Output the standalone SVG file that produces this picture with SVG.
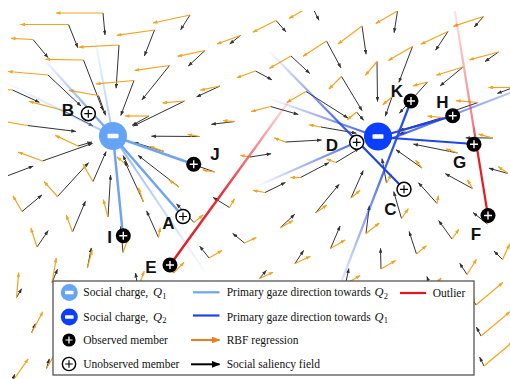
<svg xmlns="http://www.w3.org/2000/svg" width="510" height="379" viewBox="0 0 510 379">
<defs>
<style>
.k{fill:none;stroke:#333;stroke-width:1;marker-end:url(#mk)}
.o{fill:none;stroke:#f3a31f;stroke-width:1.2;marker-end:url(#mo)}
.lb{font-family:"Liberation Sans",Arial,sans-serif;font-weight:bold;font-size:17px;fill:#111;text-anchor:middle}
.lt{font-family:"Liberation Serif","Times New Roman",serif;font-size:11.5px;fill:#111}
.q{font-style:italic;font-size:12.5px}
.s{font-size:8.5px}
.g{fill:none;stroke-linecap:round}
.lb1{stroke:#6ea3f5;stroke-width:2.5}
.db{stroke:#1e44ea;stroke-width:2.2}
</style>
<marker id="mk" viewBox="0 0 8 6" refX="7.5" refY="3" markerWidth="5" markerHeight="3.6" orient="auto" markerUnits="userSpaceOnUse"><path d="M0,0L8,3L0,6z" fill="#333"/></marker>
<marker id="mo" viewBox="0 0 8 6" refX="7.5" refY="3" markerWidth="5" markerHeight="3.6" orient="auto" markerUnits="userSpaceOnUse"><path d="M0,0L8,3L0,6z" fill="#f3a31f"/></marker>
<marker id="mkL" viewBox="0 0 10 8" refX="9" refY="4" markerWidth="9" markerHeight="7" orient="auto" markerUnits="userSpaceOnUse"><path d="M0,0L10,4L0,8z" fill="#000"/></marker>
<marker id="moL" viewBox="0 0 10 8" refX="9" refY="4" markerWidth="9" markerHeight="7" orient="auto" markerUnits="userSpaceOnUse"><path d="M0,0L10,4L0,8z" fill="#ef7a22"/></marker>
<g id="obs"><circle r="7.5" fill="#000"/><path d="M-4,0H4M0,-4V4" stroke="#fff" stroke-width="1.4"/></g>
<g id="uno"><circle r="7" fill="#fff" stroke="#000" stroke-width="1.5"/><path d="M-4,0H4M0,-4V4" stroke="#000" stroke-width="1.2"/></g>
<clipPath id="cf"><rect x="8" y="11" width="502" height="368"/></clipPath>
<linearGradient id="gL1" gradientUnits="userSpaceOnUse" x1="113" y1="136" x2="40" y2="55"><stop offset="0" stop-color="#6ea3f5"/><stop offset="0.35" stop-color="#6ea3f5" stop-opacity="0.8"/><stop offset="1" stop-color="#6ea3f5" stop-opacity="0"/></linearGradient>
<linearGradient id="gL2" gradientUnits="userSpaceOnUse" x1="113" y1="136" x2="0" y2="80"><stop offset="0" stop-color="#6ea3f5" stop-opacity="0.6"/><stop offset="1" stop-color="#6ea3f5" stop-opacity="0"/></linearGradient>
<linearGradient id="gL3" gradientUnits="userSpaceOnUse" x1="113" y1="136" x2="93" y2="28"><stop offset="0" stop-color="#6ea3f5" stop-opacity="0.6"/><stop offset="1" stop-color="#6ea3f5" stop-opacity="0"/></linearGradient>
<linearGradient id="gL7" gradientUnits="userSpaceOnUse" x1="113" y1="136" x2="205" y2="272"><stop offset="0" stop-color="#6ea3f5" stop-opacity="0.8"/><stop offset="1" stop-color="#6ea3f5" stop-opacity="0.05"/></linearGradient>
<linearGradient id="gD1" gradientUnits="userSpaceOnUse" x1="268" y1="50" x2="404" y2="189"><stop offset="0" stop-color="#1e44ea" stop-opacity="0"/><stop offset="0.65" stop-color="#1e44ea"/><stop offset="1" stop-color="#1e44ea"/></linearGradient>
<linearGradient id="gD2" gradientUnits="userSpaceOnUse" x1="411" y1="101" x2="342" y2="280"><stop offset="0" stop-color="#1e44ea"/><stop offset="0.3" stop-color="#1e44ea" stop-opacity="0.9"/><stop offset="1" stop-color="#1e44ea" stop-opacity="0.12"/></linearGradient>
<linearGradient id="gD4" gradientUnits="userSpaceOnUse" x1="385" y1="137" x2="510" y2="93"><stop offset="0" stop-color="#1e44ea" stop-opacity="0.9"/><stop offset="1" stop-color="#1e44ea" stop-opacity="0.3"/></linearGradient>
<linearGradient id="gD5" gradientUnits="userSpaceOnUse" x1="268" y1="98" x2="378" y2="137"><stop offset="0" stop-color="#1e44ea" stop-opacity="0"/><stop offset="1" stop-color="#1e44ea" stop-opacity="0.9"/></linearGradient>
<linearGradient id="gD6" gradientUnits="userSpaceOnUse" x1="357" y1="142" x2="255" y2="187"><stop offset="0" stop-color="#1e44ea" stop-opacity="0.8"/><stop offset="1" stop-color="#1e44ea" stop-opacity="0"/></linearGradient>
<linearGradient id="gR1" gradientUnits="userSpaceOnUse" x1="170" y1="265" x2="297" y2="90"><stop offset="0" stop-color="#e8141e"/><stop offset="0.4" stop-color="#e8141e" stop-opacity="0.9"/><stop offset="1" stop-color="#e8141e" stop-opacity="0"/></linearGradient>
<linearGradient id="gR2" gradientUnits="userSpaceOnUse" x1="488" y1="216" x2="455" y2="12"><stop offset="0" stop-color="#e8141e"/><stop offset="0.35" stop-color="#e8141e" stop-opacity="0.95"/><stop offset="0.45" stop-color="#e8141e" stop-opacity="0.55"/><stop offset="1" stop-color="#e8141e" stop-opacity="0.12"/></linearGradient>
</defs>
<rect width="510" height="379" fill="#fff"/>
<g id="field" clip-path="url(#cf)">
<path class="k" d="M68.5 24.5L77.8 47.7"/><path class="o" d="M68.5 24.5L20.5 24.5"/>
<path class="k" d="M103 13L105 35"/><path class="o" d="M103 13L56 13"/>
<path class="k" d="M33 39.5L48 57.6"/><path class="o" d="M33 39.5L11 38.3"/>
<path class="k" d="M12.5 90L39.3 102.3"/><path class="o" d="M12.5 90L-17 87.4"/>
<path class="k" d="M48 75L81 106"/><path class="o" d="M48 75L8.2 71.5"/>
<path class="k" d="M83.5 60L103 110.5"/><path class="o" d="M83.5 60L45.5 59.3"/>
<path class="k" d="M119 45L116.1 88.2"/><path class="o" d="M119 45L79 47.1"/>
<path class="k" d="M154.5 30L144.4 55.9"/><path class="o" d="M154.5 30L116.9 35.3"/>
<path class="k" d="M190 15L180.6 29.8"/><path class="o" d="M190 15L153 23"/>
<path class="k" d="M27.5 125.5L75.8 131.4"/><path class="o" d="M27.5 125.5L-9.9 118.9"/>
<path class="k" d="M63 110.5L93 126"/><path class="o" d="M63 110.5L29.2 101.4"/>
<path class="k" d="M98.5 95.5L105.6 115.3"/><path class="o" d="M98.5 95.5L69 90.3"/>
<path class="k" d="M134 80.5L120.8 115.4"/><path class="o" d="M134 80.5L96.1 83.8"/>
<path class="k" d="M169.5 65.5L141.9 99.9"/><path class="o" d="M169.5 65.5L134.8 70.4"/>
<path class="k" d="M205 50.5L188.3 66"/><path class="o" d="M205 50.5L177.6 56.3"/>
<path class="k" d="M240.5 35.5L229.7 44"/><path class="o" d="M240.5 35.5L217 44"/>
<path class="k" d="M276 20.5L285.9 31.8"/><path class="o" d="M276 20.5L252.8 32.3"/>
<path class="k" d="M311.5 5.5L319 20.3"/><path class="o" d="M311.5 5.5L289 18.5"/>
<path class="k" d="M7 176L33.2 166.1"/><path class="o" d="M7 176L-9 164.5"/>
<path class="k" d="M42.5 161L92.5 143.3"/><path class="o" d="M42.5 161L18.1 152.1"/>
<path class="k" d="M78 146L91.9 142"/><path class="o" d="M78 146L55.3 135.4"/>
<path class="k" d="M149 116L132.2 125.3"/><path class="o" d="M149 116L125 116"/>
<path class="k" d="M184.5 101L133.3 126.1"/><path class="o" d="M184.5 101L162.6 102.9"/>
<path class="k" d="M220 86L196.6 96.9"/><path class="o" d="M220 86L200.4 90.2"/>
<path class="k" d="M255.5 71L271.9 79.8"/><path class="o" d="M255.5 71L236.7 77.8"/>
<path class="k" d="M291 56L309.7 73.4"/><path class="o" d="M291 56L269.3 68.5"/>
<path class="k" d="M326.5 41L340.9 67.8"/><path class="o" d="M326.5 41L303 56.3"/>
<path class="k" d="M362 26L366.1 54.3"/><path class="o" d="M362 26L338 44"/>
<path class="k" d="M397.5 11L394.1 32.7"/><path class="o" d="M397.5 11L375.8 23.5"/>
<path class="k" d="M22 211.5L41.9 195"/><path class="o" d="M22 211.5L13 195.9"/>
<path class="k" d="M57.5 196.5L88.6 162.6"/><path class="o" d="M57.5 196.5L44.1 181.6"/>
<path class="k" d="M93 181.5L106.1 151.6"/><path class="o" d="M93 181.5L83 164.2"/>
<path class="k" d="M128.5 166.5L123 155.6"/><path class="o" d="M128.5 166.5L117 156.9"/>
<path class="k" d="M164 151.5L134 142.4"/><path class="o" d="M164 151.5L149.9 146.4"/>
<path class="k" d="M199.5 136.5L151.4 136.2"/><path class="o" d="M199.5 136.5L187.7 134.4"/>
<path class="k" d="M235 121.5L211.4 124.3"/><path class="o" d="M235 121.5L223 120.5"/>
<path class="k" d="M270.5 106.5L298.2 114.4"/><path class="o" d="M270.5 106.5L251.2 111.7"/>
<path class="k" d="M306 91.5L347.9 118"/><path class="o" d="M306 91.5L286.9 102.5"/>
<path class="k" d="M341.5 76.5L362.1 110.7"/><path class="o" d="M341.5 76.5L328.8 89.2"/>
<path class="k" d="M377 61.5L377.5 101.5"/><path class="o" d="M377 61.5L365.4 75.3"/>
<path class="k" d="M412.5 46.5L398.9 82.3"/><path class="o" d="M412.5 46.5L388.3 60.5"/>
<path class="k" d="M448 31.5L435.6 50.2"/><path class="o" d="M448 31.5L420.8 44.2"/>
<path class="k" d="M483.5 16.5L474.3 27"/><path class="o" d="M483.5 16.5L453.1 26.4"/>
<path class="k" d="M37 247L48.2 230.6"/><path class="o" d="M37 247L30.8 228"/>
<path class="k" d="M72.5 232L85.4 201.4"/><path class="o" d="M72.5 232L66.3 215.1"/>
<path class="k" d="M108 217L110.6 175.1"/><path class="o" d="M108 217L103.3 199.6"/>
<path class="k" d="M143.5 202L124.6 161.1"/><path class="o" d="M143.5 202L138.4 187.9"/>
<path class="k" d="M179 187L138 155.3"/><path class="o" d="M179 187L169.2 180.1"/>
<path class="k" d="M214.5 172L185.3 161.6"/><path class="o" d="M214.5 172L202.7 169.9"/>
<path class="k" d="M250 157L271.1 153.7"/><path class="o" d="M250 157L240.2 155.3"/>
<path class="k" d="M285.5 142L321.5 140"/><path class="o" d="M285.5 142L274.2 137.9"/>
<path class="k" d="M321 127L356.4 133.2"/><path class="o" d="M321 127L309.2 124.9"/>
<path class="k" d="M356.5 112L363.7 120.3"/><path class="o" d="M356.5 112L347.3 119.7"/>
<path class="k" d="M392 97L385.3 116.2"/><path class="o" d="M392 97L382.8 104.7"/>
<path class="k" d="M427.5 82L399.4 113.2"/><path class="o" d="M427.5 82L413 85.9"/>
<path class="k" d="M463 67L440.1 85.9"/><path class="o" d="M463 67L436.2 75.2"/>
<path class="k" d="M498.5 52L485 61.5"/><path class="o" d="M498.5 52L469.5 59.8"/>
<path class="k" d="M16.5 297.5L21.7 288.7"/><path class="o" d="M16.5 297.5L18.7 272.6"/>
<path class="k" d="M52 282.5L57.5 269.3"/><path class="o" d="M52 282.5L56.3 257.9"/>
<path class="k" d="M87.5 267.5L91.3 247.9"/><path class="o" d="M87.5 267.5L92.2 250.1"/>
<path class="k" d="M123 252.5L120.7 226.3"/><path class="o" d="M123 252.5L128.1 238.4"/>
<path class="k" d="M158.5 237.5L146.6 210.9"/><path class="o" d="M158.5 237.5L160.2 227.7"/>
<path class="k" d="M194 222.5L176.5 203.8"/><path class="o" d="M194 222.5L203.2 214.8"/>
<path class="k" d="M229.5 207.5L213.1 197.4"/><path class="o" d="M229.5 207.5L234.5 198.8"/>
<path class="k" d="M265 192.5L285.4 182.5"/><path class="o" d="M265 192.5L253.2 190.4"/>
<path class="k" d="M300.5 177.5L328.8 162.7"/><path class="o" d="M300.5 177.5L290.5 177.5"/>
<path class="k" d="M336 162.5L359.1 148.5"/><path class="o" d="M336 162.5L326.6 159.1"/>
<path class="k" d="M407 132.5L399.1 133.7"/><path class="o" d="M407 132.5L397.6 129.1"/>
<path class="k" d="M442.5 117.5L399.4 130.5"/><path class="o" d="M442.5 117.5L427.6 116.2"/>
<path class="k" d="M478 102.5L447.6 113"/><path class="o" d="M478 102.5L456.1 100.6"/>
<path class="k" d="M513.5 87.5L497.3 93.4"/><path class="o" d="M513.5 87.5L488.5 87.5"/>
<path class="k" d="M31.5 333L35.3 323.8"/><path class="o" d="M31.5 333L42.8 311.8"/>
<path class="k" d="M138 288L135.5 273"/><path class="o" d="M138 288L144.2 271.1"/>
<path class="k" d="M173.5 273L167 258.4"/><path class="o" d="M173.5 273L184.1 262.4"/>
<path class="k" d="M209 258L199.7 246.2"/><path class="o" d="M209 258L222 250.5"/>
<path class="k" d="M244.5 243L232.7 233.4"/><path class="o" d="M244.5 243L256.3 237.5"/>
<path class="k" d="M280 228L294.7 214.3"/><path class="o" d="M280 228L293 220.5"/>
<path class="k" d="M315.5 213L339.1 184.3"/><path class="o" d="M315.5 213L327 205"/>
<path class="k" d="M351 198L363.2 170.6"/><path class="o" d="M351 198L360.2 190.3"/>
<path class="k" d="M386.5 183L382 158.6"/><path class="o" d="M386.5 183L391.5 174.3"/>
<path class="k" d="M422 168L396 149.7"/><path class="o" d="M422 168L415.6 160.3"/>
<path class="k" d="M457.5 153L413.4 144.1"/><path class="o" d="M457.5 153L446.2 148.9"/>
<path class="k" d="M493 138L465.8 137.8"/><path class="o" d="M493 138L478.5 134.1"/>
<path class="k" d="M11 383.5L14.8 374.3"/><path class="o" d="M11 383.5L28.2 358.9"/>
<path class="k" d="M46.5 368.5L49.3 358.9"/><path class="o" d="M46.5 368.5L60.5 344.2"/>
<path class="k" d="M259.5 278.5L266.3 270.4"/><path class="o" d="M259.5 278.5L273.1 272.2"/>
<path class="k" d="M295 263.5L303.6 250.4"/><path class="o" d="M295 263.5L310.4 256.3"/>
<path class="k" d="M330.5 248.5L340.1 226"/><path class="o" d="M330.5 248.5L345.2 240"/>
<path class="k" d="M366 233.5L369.4 205.7"/><path class="o" d="M366 233.5L379.4 223"/>
<path class="k" d="M401.5 218.5L393.7 191.6"/><path class="o" d="M401.5 218.5L408.4 208.7"/>
<path class="k" d="M437 203.5L418.4 182.6"/><path class="o" d="M437 203.5L438.4 195.6"/>
<path class="k" d="M472.5 188.5L445.3 173.7"/><path class="o" d="M472.5 188.5L467.5 179.8"/>
<path class="k" d="M508 173.5L488.9 168.2"/><path class="o" d="M508 173.5L498.2 166.6"/>
<path class="k" d="M381 269L380.5 248.3"/><path class="o" d="M381 269L395.7 260.5"/>
<path class="k" d="M345.5 284L348.9 268.5"/><path class="o" d="M345.5 284L360.2 275.5"/>
<path class="k" d="M416.5 254L409.1 231.5"/><path class="o" d="M416.5 254L426.5 245.6"/>
<path class="k" d="M452 239L438.7 220.6"/><path class="o" d="M452 239L458.9 229.2"/>
<path class="k" d="M487.5 224L473.1 212.6"/><path class="o" d="M487.5 224L492.5 215.3"/>
<path class="k" d="M431.5 289.5L426.9 276.5"/><path class="o" d="M431.5 289.5L441.1 278"/>
<path class="k" d="M467 274.5L459.7 263.3"/><path class="o" d="M467 274.5L476.5 259.2"/>
<path class="k" d="M502.5 259.5L494.1 251.2"/><path class="o" d="M502.5 259.5L509.7 244.1"/>
<path class="k" d="M476 305L471 296.4"/><path class="o" d="M476 305L502.8 282.5"/>
<path class="k" d="M481 336L476.4 327.1"/><path class="o" d="M481 336L510 311.6"/>
<path class="k" d="M484 366L479.6 357.1"/><path class="o" d="M484 366L513 341.6"/>
</g>
<g id="connectors" class="g">
<path stroke="url(#gL2)" stroke-width="2" d="M113 136L0 80"/>
<path stroke="url(#gL3)" stroke-width="2" d="M113 136L93 28"/>
<path stroke="url(#gL1)" stroke-width="2.4" d="M113 136L40 55"/>
<path stroke="url(#gL7)" stroke-width="2.2" d="M113 136L205 272"/>
<path class="lb1" d="M113 136L193.5 164.3"/>
<path class="lb1" d="M113 136L123 236"/>
<path class="lb1" d="M113 136L183 216.5"/>
<path stroke="url(#gD5)" stroke-width="2" d="M268 98L378 137"/>
<path stroke="url(#gD6)" stroke-width="2" d="M357 142L255 187"/>
<path stroke="url(#gD1)" stroke-width="2.2" d="M268 50L404 189"/>
<path stroke="url(#gD2)" stroke-width="2.2" d="M411 101L342 280"/>
<path class="db" d="M378 137L474 144"/>
<path class="db" d="M378 137L453 116"/>
<path stroke="url(#gD4)" stroke-width="2" d="M385 141L510 93"/>
<path stroke="url(#gR1)" stroke-width="2.4" d="M170 265L297 90"/>
<path stroke="url(#gR2)" stroke-width="2.2" d="M488 216L455 12"/>
</g>
<g id="Q1"><circle cx="113" cy="136" r="14" fill="#65a3f7"/><rect x="107.5" y="133.8" width="11" height="4.5" rx="0.8" fill="#fff"/></g>
<g id="Q2"><circle cx="378" cy="136.5" r="14" fill="#0a3fff"/><rect x="372.5" y="134.3" width="11" height="4.5" rx="0.8" fill="#fff"/></g>
<g id="A"><use href="#uno" x="183" y="216.5"/><text class="lb" x="168.5" y="228.5">A</text></g>
<g id="B"><use href="#uno" x="88.3" y="113.7"/><text class="lb" x="68" y="116">B</text></g>
<g id="C"><use href="#uno" x="404" y="189.3"/><text class="lb" x="390.5" y="215">C</text></g>
<g id="D"><use href="#uno" x="356.7" y="142.3"/><text class="lb" x="332" y="150.5">D</text></g>
<g id="E"><use href="#obs" x="170" y="265"/><text class="lb" x="151" y="273.3">E</text></g>
<g id="F"><use href="#obs" x="488" y="215.5"/><text class="lb" x="476" y="240">F</text></g>
<g id="G"><use href="#obs" x="474" y="144.3"/><text class="lb" x="459.7" y="167.5">G</text></g>
<g id="H"><use href="#obs" x="452.7" y="115.7"/><text class="lb" x="442.5" y="108.3">H</text></g>
<g id="I"><use href="#obs" x="123.3" y="235.7"/><text class="lb" x="109.5" y="243.3">I</text></g>
<g id="J"><use href="#obs" x="193.7" y="164.3"/><text class="lb" x="215" y="160">J</text></g>
<g id="K"><use href="#obs" x="411" y="101"/><text class="lb" x="397" y="96.7">K</text></g>
<g id="legend">
<rect x="53" y="281" width="421" height="94" fill="#fff" stroke="#555" stroke-width="1.3"/>
<circle cx="69.3" cy="292.5" r="8.5" fill="#65a3f7"/><rect x="65" y="290.8" width="8.6" height="3.4" rx="0.6" fill="#fff"/>
<circle cx="69.3" cy="317" r="8.5" fill="#0a3fff"/><rect x="65" y="315.3" width="8.6" height="3.4" rx="0.6" fill="#fff"/>
<use href="#obs" transform="translate(69 340) scale(0.88)"/>
<use href="#uno" transform="translate(69 364) scale(0.95)"/>
<text class="lt" x="83.3" y="296">Social charge, <tspan class="q" dx="2">Q</tspan><tspan class="s" dy="2.5">1</tspan></text>
<text class="lt" x="83.3" y="320.5">Social charge, <tspan class="q" dx="2">Q</tspan><tspan class="s" dy="2.5">2</tspan></text>
<text class="lt" x="83.3" y="343.5">Observed member</text>
<text class="lt" x="83.3" y="367.8">Unobserved member</text>
<path d="M193 292.3H219.5" stroke="#6ea3f5" stroke-width="2.2"/>
<path d="M193 315.5H219.5" stroke="#1e44ea" stroke-width="2.2"/>
<path d="M191 340H219.5" stroke="#ef7a22" stroke-width="2" marker-end="url(#moL)"/>
<path d="M191 364.3H219.5" stroke="#000" stroke-width="2" marker-end="url(#mkL)"/>
<text class="lt" x="226.7" y="296">Primary gaze direction towards <tspan class="q" dx="1">Q</tspan><tspan class="s" dy="2.5">2</tspan></text>
<text class="lt" x="226.7" y="320.5">Primary gaze direction towards <tspan class="q" dx="1">Q</tspan><tspan class="s" dy="2.5">1</tspan></text>
<text class="lt" x="226.7" y="343.5">RBF regression</text>
<text class="lt" x="226.7" y="367.8">Social saliency field</text>
<path d="M400 293H426" stroke="#e8141e" stroke-width="2.2"/>
<text class="lt" x="432.7" y="296.5">Outlier</text>
</g>
</svg>
